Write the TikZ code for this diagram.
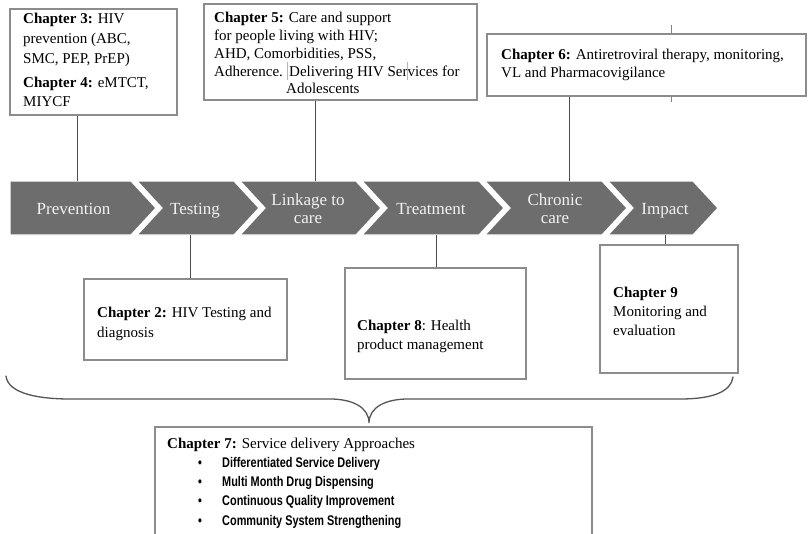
\documentclass[tikz,border=0pt]{standalone}
\usepackage{fontspec}
\setmainfont{Liberation Serif}
\newfontfamily\bulletfont{Liberation Sans}[FakeStretch=0.78]

\definecolor{chevfill}{HTML}{6D6D6D}
\definecolor{chevtext}{HTML}{F2F2F2}
\definecolor{boxline}{HTML}{8C8C8C}
\definecolor{linkline}{HTML}{4D4D4D}
\definecolor{faint}{HTML}{B5B5B5}
\definecolor{bracecol}{HTML}{555555}

\begin{document}
\begin{tikzpicture}[x=1pt,y=-1pt,
  box/.style={draw=boxline, line width=1.1pt, fill=white, inner sep=0pt},
  body/.style={anchor=base west, inner sep=0pt, text=black, font=\fontsize{15}{18}\selectfont},
  chevlabel/.style={anchor=base, inner sep=0pt, text=chevtext, font=\fontsize{17}{20}\selectfont},
  chev/.style={fill=chevfill, draw=white, line width=1.2pt, line join=miter},
  link/.style={draw=linkline, line width=0.9pt},
  stray/.style={draw=faint, line width=0.7pt},
  item/.style={anchor=base west, inner sep=0pt, text=black, font=\fontsize{14}{16}\bulletfont\bfseries},
  brace/.style={draw=bracecol, line width=1.3pt, line cap=round},
]
\useasboundingbox (0,0) rectangle (808,533);
\fill[white] (0,0) rectangle (808,533);

% ---------------- process chevrons ----------------
\path[chev] (10,181) -- (131,181) -- (156,208) -- (131,235) -- (10,235) -- cycle;
\path[chev] (137,181) -- (234,181) -- (259,208) -- (234,235) -- (137,235) -- (162,208) -- cycle;
\path[chev] (240,181) -- (356,181) -- (381,208) -- (356,235) -- (240,235) -- (265,208) -- cycle;
\path[chev] (362,181) -- (479,181) -- (504,208) -- (479,235) -- (362,235) -- (387,208) -- cycle;
\path[chev] (485,181) -- (602,181) -- (627,208) -- (602,235) -- (485,235) -- (510,208) -- cycle;
\path[chev] (608,181) -- (693,181) -- (718,208) -- (693,235) -- (608,235) -- (633,208) -- cycle;

\node[chevlabel] (lprev)   at (73.5,214) {Prevention};
\node[chevlabel] (ltest)   at (195,214)  {Testing};
\node[chevlabel] (llinka)  at (308,205)  {Linkage to};
\node[chevlabel] (llinkb)  at (308,223)  {care};
\node[chevlabel] (ltreat)  at (431,214)  {Treatment};
\node[chevlabel] (lchrona) at (555,205)  {Chronic};
\node[chevlabel] (lchronb) at (555,223)  {care};
\node[chevlabel] (limpact) at (665,214)  {Impact};

% points where the connectors meet the chevrons
\coordinate (kprev)  at (77,181);
\coordinate (klink)  at (315,181);
\coordinate (kchron) at (569,181);
\coordinate (ktest)  at (190,235);
\coordinate (ktreat) at (436,235);
\coordinate (kimp)   at (665,235);

% line partly hidden behind the Chapter 6 box
\coordinate (ticka) at (671,25);
\coordinate (tickb) at (671,102);
\draw[stray, draw=linkline!70, line width=0.8pt] (ticka) -- (tickb);

% ---------------- chapter boxes ----------------
\node[box, minimum width=167, minimum height=106] (c3) at (93.5,62)   {};
\node[box, minimum width=273, minimum height=96]  (c5) at (340.5,52)  {};
\node[box, minimum width=319, minimum height=62]  (c6) at (646.5,65)  {};
\node[box, minimum width=203, minimum height=81]  (c2) at (185.5,319.5) {};
\node[box, minimum width=181, minimum height=111] (c8) at (435.5,323.5) {};
\node[box, minimum width=138, minimum height=128] (c9) at (669,309)   {};
\node[box, minimum width=437, minimum height=133] (c7) at (373.5,493.5) {};

% connectors
\draw[link] (kprev |- c3.south) -- (kprev);
\draw[link] (klink |- c5.south) -- (klink);
\draw[link] (kchron |- c6.south) -- (kchron);
\draw[link] (ktest) -- (ktest |- c2.north);
\draw[link] (ktreat) -- (ktreat |- c8.north);
\draw[link] (kimp) -- (kimp |- c9.north);

% Chapter 3 / 4
\node[body] (t3a) at (23,23)  {\textbf{Chapter 3:} HIV};
\node[body] (t3b) at (23,43)  {prevention (ABC,};
\node[body] (t3c) at (23,63)  {SMC, PEP, PrEP)};
\node[body] (t4a) at (23,87)  {\textbf{Chapter 4:} eMTCT,};
\node[body] (t4b) at (23,106) {MIYCF};

% Chapter 5
\node[body] (t5a) at (214,22) {\textbf{Chapter 5:} Care and support};
\node[body] (t5b) at (214,40) {for people living with HIV;};
\node[body] (t5c) at (214,58) {AHD, Comorbidities, PSS,};
\node[body] (t5d) at (214,76) {Adherence.};
\node[body] (t5e) at (289,76) {Delivering HIV Services for};
\node[body] (t5f) at (286,93) {Adolescents};
\coordinate (sa) at (287,62);
\coordinate (sb) at (287,80);
\coordinate (sc) at (407,62);
\coordinate (sd) at (407,80);
\draw[stray] (sa) -- (sb);
\draw[stray] (sc) -- (sd);

% Chapter 6
\node[body] (t6a) at (501,59) {\textbf{Chapter 6:} Antiretroviral therapy, monitoring,};
\node[body] (t6b) at (501,77) {VL and Pharmacovigilance};

% Chapter 2
\node[body] (t2a) at (97,317) {\textbf{Chapter 2:} HIV Testing and};
\node[body] (t2b) at (97,337) {diagnosis};

% Chapter 8
\node[body] (t8a) at (357,330) {\textbf{Chapter 8}: Health};
\node[body] (t8b) at (357,349) {product management};

% Chapter 9
\node[body] (t9a) at (613,297) {\textbf{Chapter 9}};
\node[body] (t9b) at (613,316) {Monitoring and};
\node[body] (t9c) at (613,335) {evaluation};

% Chapter 7
\node[body] (t7a) at (167,448) {\textbf{Chapter 7:} Service delivery Approaches};
\node[item] (b1) at (198,467) {•};
\node[item] (b2) at (198,486) {•};
\node[item] (b3) at (198,505) {•};
\node[item] (b4) at (198,525) {•};
\node[item] (i1) at (222,467) {Differentiated Service Delivery};
\node[item] (i2) at (222,486) {Multi Month Drug Dispensing};
\node[item] (i3) at (222,505) {Continuous Quality Improvement};
\node[item] (i4) at (222,525) {Community System Strengthening};

% curly brace gathering the process into Chapter 7
\draw[brace] (6,376) .. controls (8,394) and (40,399) .. (70,399)
  -- (330,399) .. controls (352,399) and (369,407) .. (369,423)
  .. controls (369,407) and (386,399) .. (408,399)
  -- (680,399) .. controls (712,399) and (731,392) .. (733,377);
\end{tikzpicture}
\end{document}
